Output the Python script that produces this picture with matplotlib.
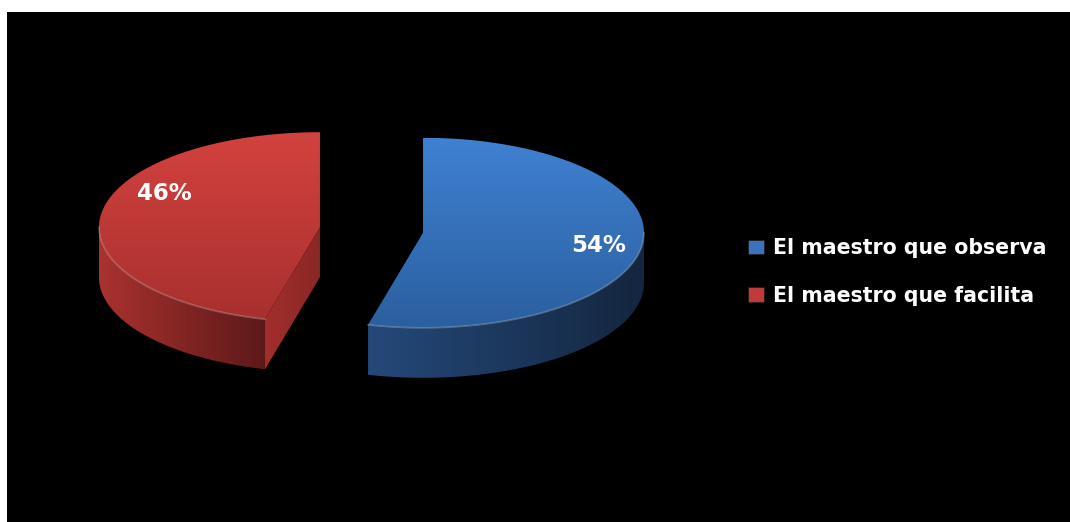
import numpy as np
import matplotlib
matplotlib.use("Agg")
import matplotlib.pyplot as plt
from matplotlib.patches import Polygon, Rectangle
from matplotlib.colors import LinearSegmentedColormap

# datos de la encuesta
categorias = ["El maestro que observa", "El maestro que facilita"]
porcentajes = [54, 46]

# colores: cara superior (arriba, abajo), pared exterior (izq, der), pared radial
col_sup = [("#3f81d2", "#2b5f9f"), ("#d3423f", "#a8302e")]
col_pared = [("#24497a", "#14263f"), ("#aa322f", "#5c1919")]
col_radial = [("#1d3a63", "#1d3a63"), ("#a22f2c", "#8a2725")]
col_leyenda = ["#3a72bd", "#c0393b"]

W, H = 1070, 522
cx, cy = 371.5, 230      # centro del pastel
Rx, Ry = 221, 95         # semiejes de la elipse
prof = 50                # grosor del pastel
explota = 0.235          # separacion de las porciones
pos_etq = [(0.80, 3), (0.71, -25)]


def punto(c, a, r=1.0):
    return np.array([c[0] + r * Rx * np.sin(a), c[1] - r * Ry * np.cos(a)])


def relleno_degradado(ax, verts, c1, c2, horizontal=False):
    verts = np.asarray(verts)
    poly = Polygon(verts, closed=True, facecolor="none", edgecolor="none")
    ax.add_patch(poly)
    x0, x1 = verts[:, 0].min(), verts[:, 0].max()
    y0, y1 = verts[:, 1].min(), verts[:, 1].max()
    t = np.linspace(0, 1, 256)
    arr = t[None, :] if horizontal else t[:, None]
    cmap = LinearSegmentedColormap.from_list("g", [c1, c2])
    im = ax.imshow(arr, cmap=cmap, extent=(x0, x1, y1, y0), origin="upper",
                   aspect="auto", interpolation="bilinear", zorder=2)
    im.set_clip_path(poly)


fig = plt.figure(figsize=(W / 100, H / 100), dpi=100)
fig.patch.set_facecolor("white")
ax = fig.add_axes([0, 0, 1, 1])
ax.set_axis_off()
ax.add_patch(Rectangle((7, 12), W - 7, H - 12, facecolor="black", zorder=0))

fracs = np.array(porcentajes) / sum(porcentajes)
inicio = 0.0
for i, f in enumerate(fracs):
    a0 = inicio
    a1 = inicio + f * 2 * np.pi
    inicio = a1
    mid = (a0 + a1) / 2
    c = punto((cx, cy), mid, explota)

    # pared radial visible
    for a, normal in ((a0, a0 - np.pi / 2), (a1, a1 + np.pi / 2)):
        if -np.cos(normal) > 0.05:
            p = punto(c, a)
            v = [c, p, p + [0, prof], c + [0, prof]]
            relleno_degradado(ax, v, col_radial[i][0], col_radial[i][1], True)

    # pared exterior (solo la parte delantera)
    b0, b1 = max(a0, np.pi / 2), min(a1, 3 * np.pi / 2)
    if b1 > b0:
        ang = np.linspace(b0, b1, 120)
        arriba = np.array([punto(c, a) for a in ang])
        abajo = arriba[::-1] + [0, prof]
        relleno_degradado(ax, np.vstack([arriba, abajo]),
                          col_pared[i][0], col_pared[i][1], True)
        ax.plot(arriba[:, 0], arriba[:, 1], color="white", alpha=0.25,
                lw=1.2, zorder=3)

    # cara superior
    ang = np.linspace(a0, a1, 200)
    borde = np.array([punto(c, a) for a in ang])
    relleno_degradado(ax, np.vstack([[c], borde]), col_sup[i][0], col_sup[i][1])

    # etiqueta de porcentaje
    r, dy = pos_etq[i]
    e = punto(c, mid, r)
    ax.text(e[0], e[1] + dy, f"{porcentajes[i]}%", color="white",
            fontsize=16.5, fontweight="bold", ha="center", va="center",
            family="DejaVu Sans", zorder=5)

manejadores = [Rectangle((0, 0), 1, 1, facecolor=col, edgecolor="#1a1a1a", lw=0.5)
               for col in col_leyenda]
ley = ax.legend(manejadores, categorias, loc="center left",
                bbox_to_anchor=(738 / W, 1 - 272 / H), frameon=False,
                borderpad=0, handlelength=0.75, handleheight=0.7,
                handletextpad=0.45, labelspacing=1.32,
                prop={"family": "DejaVu Sans", "weight": "bold", "size": 14.8})
for t in ley.get_texts():
    t.set_color("white")

ax.set_xlim(0, W)
ax.set_ylim(H, 0)
fig.savefig("out.png", dpi=100, facecolor=fig.get_facecolor())
